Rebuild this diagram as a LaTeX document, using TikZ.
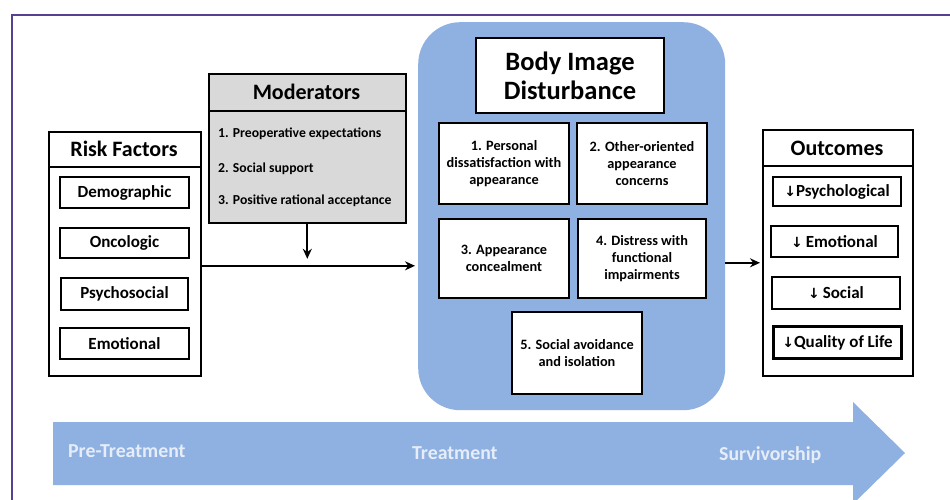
\documentclass[tikz,border=0pt]{standalone}
\usepackage{fontspec}
\setmainfont{Carlito}
\newfontfamily\arr{DejaVu Sans}
\newcommand\dnarrow{{\arr\fontsize{14}{14}\selectfont ↓}}
\usetikzlibrary{arrows.meta}
\definecolor{bluef}{HTML}{8EB1E1}
\definecolor{framec}{HTML}{56408F}
\definecolor{modg}{HTML}{D9D9D9}
\definecolor{tltext}{HTML}{E6EDF8}
\begin{document}
\begin{tikzpicture}[x=1pt,y=-1pt,
  outer/.style={draw=black, line width=1.6pt, fill=white, inner sep=0pt, anchor=north west},
  item/.style={draw=black, line width=2pt, fill=white, inner sep=0pt, anchor=north west, align=center, font=\bfseries\fontsize{17}{19}\selectfont},
  bitem/.style={item, font=\bfseries\fontsize{14.3}{17}\selectfont},
  ttl/.style={font=\bfseries\fontsize{22}{24}\selectfont, anchor=base, inner sep=0pt},
  moditem/.style={font=\bfseries\fontsize{13.7}{15}\selectfont, anchor=base west, inner sep=0pt},
  tl/.style={font=\bfseries\fontsize{19.8}{22}\selectfont, text=tltext, anchor=base west, inner sep=0pt},
  conn/.style={line width=1.8pt, -{Stealth[length=10pt,width=9pt]}},
  divider/.style={line width=1.6pt}
]
\useasboundingbox (0,0) rectangle (950,500);
% frame
\draw[framec, line width=2pt] (12,500) -- (12,15) -- (950,15);

% timeline arrow
\fill[bluef] (53,422) -- (853,422) -- (853,402) -- (905,453) -- (853,504) -- (853,485) -- (53,485) -- cycle;
\node[tl] (pre) at (68,457) {Pre-Treatment};
\node[tl] (trt) at (412,459) {Treatment};
\node[tl] (surv) at (719,460) {Survivorship};

% Risk factors
\node[outer, minimum width=152pt, minimum height=244pt] (rf) at (48,131) {};
\draw[divider] (rf.west |- 0,167) -- (rf.east |- 0,167);
\node[ttl] (rft) at (124,157) {Risk Factors};
\node[item, minimum width=129pt, minimum height=31pt] (dem) at (59,176) {Demographic};
\node[item, minimum width=129pt, minimum height=30pt] (onc) at (59,227) {Oncologic};
\node[item, minimum width=127pt, minimum height=32pt] (psy) at (60,277) {Psychosocial};
\node[item, minimum width=129pt, minimum height=31pt] (emo) at (59,327) {Emotional};

% Moderators
\node[outer, fill=modg, minimum width=197pt, minimum height=149pt] (mod) at (208,73) {};
\draw[divider] (mod.west |- 0,111) -- (mod.east |- 0,111);
\node[ttl] (modt) at (306.5,100) {Moderators};
\node[moditem] (m1) at (218,138) {1. Preoperative expectations};
\node[moditem] (m2) at (218,172) {2. Social support};
\node[moditem] (m3) at (218,204) {3. Positive rational acceptance};

% Body image disturbance
\node[fill=bluef, rounded corners=42pt, inner sep=0pt, anchor=north west, minimum width=307pt, minimum height=388pt] (bid) at (418,22) {};
\node[item, minimum width=188pt, minimum height=75pt, font=\bfseries\fontsize{26.5}{29}\selectfont] (bt) at (475,37) {Body Image\\Disturbance};
\node[bitem, minimum width=130pt, minimum height=81pt] (b1) at (438,122) {1. Personal\\dissatisfaction with\\appearance};
\node[bitem, minimum width=130pt, minimum height=81pt] (b2) at (576,122) {2. Other-oriented\\appearance\\concerns};
\node[bitem, minimum width=130pt, minimum height=79pt] (b3) at (438,218) {3. Appearance\\concealment};
\node[bitem, minimum width=128pt, minimum height=79pt] (b4) at (577,218) {4. Distress with\\functional\\impairments};
\node[bitem, minimum width=130pt, minimum height=82pt] (b5) at (511,311) {5. Social avoidance\\and isolation};

% Outcomes
\node[outer, minimum width=150pt, minimum height=246pt] (oc) at (762,129) {};
\draw[divider] (oc.west |- 0,166) -- (oc.east |- 0,166);
\node[ttl] (oct) at (837,156) {Outcomes};
\node[item, minimum width=128pt, minimum height=29pt] (opsy) at (772,176) {\dnarrow Psychological};
\node[item, minimum width=127pt, minimum height=31pt] (oemo) at (770,225) {\dnarrow\,Emotional};
\node[item, minimum width=128pt, minimum height=32pt] (osoc) at (771,276) {\dnarrow\,Social};
\node[item, line width=3pt, minimum width=128pt, minimum height=32pt] (oqol) at (772,325) {\dnarrow Quality of Life};

% connectors
\coordinate (ra) at ([yshift=-12pt]rf.east);
\draw[conn, shorten >=3pt] (ra) -- (ra -| bid.west);
\draw[conn, shorten >=7pt] (mod.south) -- (mod.south |- ra);
\coordinate (oa) at ([yshift=-10pt]oc.west);
\draw[conn, shorten >=2pt] (oa -| bid.east) -- (oa);
\end{tikzpicture}
\end{document}
